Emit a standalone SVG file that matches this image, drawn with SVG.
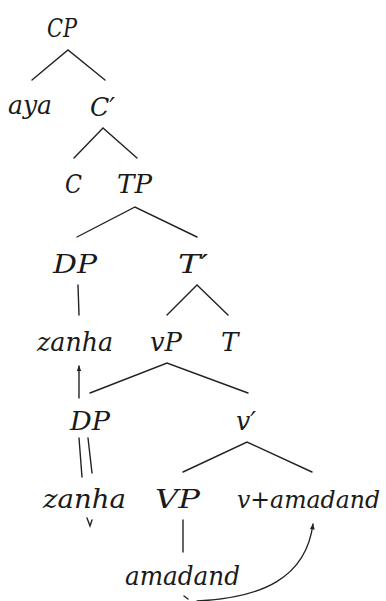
<svg xmlns="http://www.w3.org/2000/svg" width="386" height="601" viewBox="0 0 386 601">
<defs>
<style>
text{font-family:"DejaVu Serif","Liberation Serif",serif;font-style:italic;font-size:26px;fill:#1a1a1a;}
.e{stroke:#222;stroke-width:1.4;fill:none;stroke-linecap:round;}
</style>
<marker id="ah" viewBox="0 0 10 10" refX="9" refY="5" markerWidth="6" markerHeight="6" orient="auto" markerUnits="userSpaceOnUse">
<path d="M0,1 L10,5 L0,9 Z" fill="#222"/>
</marker>
</defs>
<rect width="386" height="601" fill="#fff"/>
<g id="n-cp"><text x="47" y="37" textLength="30" lengthAdjust="spacingAndGlyphs">CP</text></g>
<g id="n-aya"><text x="8" y="114" textLength="44" lengthAdjust="spacingAndGlyphs">aya</text></g>
<g id="n-cbar"><text x="90" y="116" textLength="25" lengthAdjust="spacingAndGlyphs">C′</text></g>
<g id="n-c"><text x="65" y="193" textLength="17" lengthAdjust="spacingAndGlyphs">C</text></g>
<g id="n-tp"><text x="117" y="193" textLength="35" lengthAdjust="spacingAndGlyphs">TP</text></g>
<g id="n-dp1"><text x="53" y="273" textLength="44" lengthAdjust="spacingAndGlyphs">DP</text></g>
<g id="n-tbar"><text x="178" y="273" textLength="30" lengthAdjust="spacingAndGlyphs">T′</text></g>
<g id="n-zanha1"><text x="37" y="351" textLength="76" lengthAdjust="spacingAndGlyphs">zanha</text></g>
<g id="n-vp"><text x="150" y="351" textLength="32" lengthAdjust="spacingAndGlyphs">vP</text></g>
<g id="n-t"><text x="221" y="351">T</text></g>
<g id="n-dp2"><text x="70" y="430" textLength="40" lengthAdjust="spacingAndGlyphs">DP</text></g>
<g id="n-vbar"><text x="236" y="430" textLength="20" lengthAdjust="spacingAndGlyphs">v′</text></g>
<g id="n-zanha2"><text x="43" y="508" textLength="83" lengthAdjust="spacingAndGlyphs">zanha</text></g>
<g id="n-VP"><text x="155" y="508" textLength="45" lengthAdjust="spacingAndGlyphs">VP</text></g>
<g id="n-vamadand"><text x="237" y="508" style="font-size:24px" textLength="143" lengthAdjust="spacingAndGlyphs">v+amadand</text></g>
<g id="n-amadand"><text x="125" y="585" textLength="115" lengthAdjust="spacingAndGlyphs">amadand</text></g>
<g id="connectors">
<path class="e" d="M32,80 L68,50 L105,80"/>
<path class="e" d="M74,158 L103,128 L137,158"/>
<path class="e" d="M77,237 L135,207 L197,237"/>
<path class="e" d="M78,285 L79,315"/>
<path class="e" d="M167,315 L197,285 L228,315"/>
<path class="e" d="M90,393 L167,363 L248,393"/>
<path class="e" d="M183,472 L247,442 L312,472"/>
<path class="e" d="M79,438 L82,477"/>
<path class="e" d="M88,438 L92,473"/>
<path class="e" d="M183,520 L183,552"/>
<path class="e" d="M79,398 L79,366" marker-end="url(#ah)"/>
<path class="e" d="M197,601 C262,598 306,578 313,524" marker-end="url(#ah)"/>
<path class="e" d="M87,518 L90,526 L92,520"/>
<path class="e" d="M184,596 L188,599"/>
</g>
</svg>
